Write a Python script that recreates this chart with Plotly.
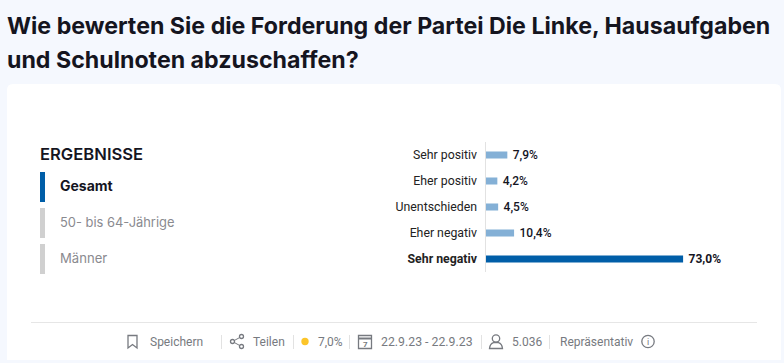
import plotly.graph_objects as go

categories = ["Sehr positiv", "Eher positiv", "Unentschieden", "Eher negativ", "Sehr negativ"]
values = [7.9, 4.2, 4.5, 10.4, 73.0]
value_labels = ["7,9%", "4,2%", "4,5%", "10,4%", "73,0%"]
highlight = "Sehr negativ"
title_lines = ["Wie bewerten Sie die Forderung der Partei Die Linke, Hausaufgaben",
               "und Schulnoten abzuschaffen?"]
groups = ["Gesamt", "50- bis 64-Jährige", "Männer"]
footer = ["Speichern", "Teilen", "7,0%", "22.9.23 - 22.9.23", "5.036", "Repräsentativ"]

W, H = 784, 363
HEAD = "Inter"
BODY = "Roboto"
px = lambda x: x / W
py = lambda y: 1 - y / H

def P(d):
    out = []
    for t in d.split():
        if t[0].isalpha():
            out.append(t)
        else:
            a, b = t.split(",")
            out.append(f"{px(float(a)):.5f},{py(float(b)):.5f}")
    return " ".join(out)

shapes, annos = [], []
def rect(x0, y0, x1, y1, c):
    shapes.append(dict(type="rect", xref="paper", yref="paper", x0=px(x0), x1=px(x1),
                       y0=py(y0), y1=py(y1), fillcolor=c, line_width=0, layer="below"))
def line(x0, y0, x1, y1, c, w=1):
    shapes.append(dict(type="line", xref="paper", yref="paper", x0=px(x0), x1=px(x1),
                       y0=py(y0), y1=py(y1), line=dict(color=c, width=w), layer="below"))
def path(d, c, w=1.3, fill=None):
    shapes.append(dict(type="path", xref="paper", yref="paper", path=P(d),
                       line=dict(color=c, width=w), fillcolor=fill or "rgba(0,0,0,0)", layer="below"))
def circ(cx, cy, r, c, w=1.3, fill=None):
    shapes.append(dict(type="circle", xref="paper", yref="paper", x0=px(cx - r), x1=px(cx + r),
                       y0=py(cy - r), y1=py(cy + r), line=dict(color=c, width=w),
                       fillcolor=fill or "rgba(0,0,0,0)", layer="below"))
def text(x, y, s, size, c, fam=BODY, weight=400, anchor="left"):
    annos.append(dict(x=px(x - (1 if anchor == "left" else 0)), y=py(y), xref="paper", yref="paper",
                      text=s, showarrow=False, xanchor=anchor, yanchor="middle", borderpad=0,
                      font=dict(size=size, color=c, family=fam, weight=weight)))

# card
path("M 7,360 L 7,90 Q 7,84 13,84 L 775,84 Q 781,84 781,90 L 781,360 Z", "#ffffff", 0, "#ffffff")

# title
text(7, 26, title_lines[0], 23.2, "#15151f", HEAD, 700)
text(7, 60, title_lines[1], 23.2, "#15151f", HEAD, 700)

# left menu
text(40, 153.5, "ERGEBNISSE", 16.6, "#15151f", HEAD, 600)
sizes = [14, 12.9, 13.1]
for i, (g, y) in enumerate(zip(groups, [172, 208, 244])):
    rect(40, y, 45, y + 30, "#005ea8" if i == 0 else "#d0d0d0")
    text(60, y + 14, g, sizes[i], "#15151f" if i == 0 else "#8a8a8f", HEAD, 700 if i == 0 else 400)

# footer
line(31, 322.5, 757, 322.5, "#e6e6e6")
for x in [221.5, 293.5, 349.5, 481.5, 549.5]:
    line(x, 335, x, 349, "#e2e2e2")
G = "#777a80"
path("M 128,335.5 L 137,335.5 L 137,348 L 132.5,344.5 L 128,348 Z", G)
text(149.5, 341.5, footer[0], 12, G)
circ(232.5, 341.5, 2, G); circ(241.5, 336.5, 2, G); circ(241.5, 346.5, 2, G)
line(234.3, 340.5, 239.7, 337.5, G); line(234.3, 342.5, 239.7, 345.5, G)
text(252.5, 341.5, footer[1], 12, G)
circ(305, 341.5, 3.7, "#fcc52a", 0, "#fcc52a")
text(317.5, 341.5, footer[2], 12, G)
path("M 358.5,335.5 L 371.5,335.5 L 371.5,348.5 L 358.5,348.5 Z", G)
line(358.5, 338.5, 371.5, 338.5, G, 2)
text(365, 344.2, "7", 8, G, BODY, 700, "center")
text(380.5, 341.5, footer[3], 12.3, G)
circ(496, 338.5, 3.7, G)
path("M 489.5,348.5 Q 490,343.5 493.5,342.5 L 498.5,342.5 Q 502,343.5 502.5,348.5 Z", G)
text(511.5, 341.5, footer[4], 12, G)
text(559.5, 341.5, footer[5], 12, G)
circ(648, 341.5, 6.2, G)
text(648, 341.5, "i", 9, G, BODY, 400, "center")

colors = ["#005ea8" if c == highlight else "#84b0d6" for c in categories]
ticks = [f"<b>{c}</b>" if c == highlight else c for c in categories]
X0, SCALE = 486, 2.7
XMAX = 270 / SCALE

fig = go.Figure(go.Bar(
    x=values, y=categories, orientation="h", width=0.27,
    marker=dict(color=colors, line_width=0),
    text=["\u2009" + v if c != highlight else "\u2009<b>" + v + "</b>" for v, c in zip(value_labels, categories)],
    textposition="outside", cliponaxis=False, constraintext="none",
    textfont=dict(size=12, family=BODY, color="#15151f", weight=500),
    hoverinfo="skip",
))
fig.update_layout(
    width=W, height=H, margin=dict(l=0, r=0, t=0, b=0), showlegend=False,
    paper_bgcolor="#f5f8fe", plot_bgcolor="rgba(0,0,0,0)",
    annotations=annos,
    xaxis=dict(domain=[px(X0), px(X0 + 270)], range=[0, XMAX], visible=False, fixedrange=True),
    yaxis=dict(domain=[py(272), py(142)], categoryorder="array", categoryarray=categories,
               tickmode="array", tickvals=categories, ticktext=ticks, autorange="reversed",
               showgrid=False, zeroline=False, showline=False, ticks="",
               ticklabelstandoff=8, tickfont=dict(size=12.3, family=BODY, color="#222"),
               fixedrange=True),
)
line(485.5, 142, 485.5, 272, "#e2e2e2")
fig.update_layout(shapes=shapes)
fig.write_html("out.html", config={"displayModeBar": False},
               post_script="document.body.style.margin='0';document.body.style.overflow='hidden';")
